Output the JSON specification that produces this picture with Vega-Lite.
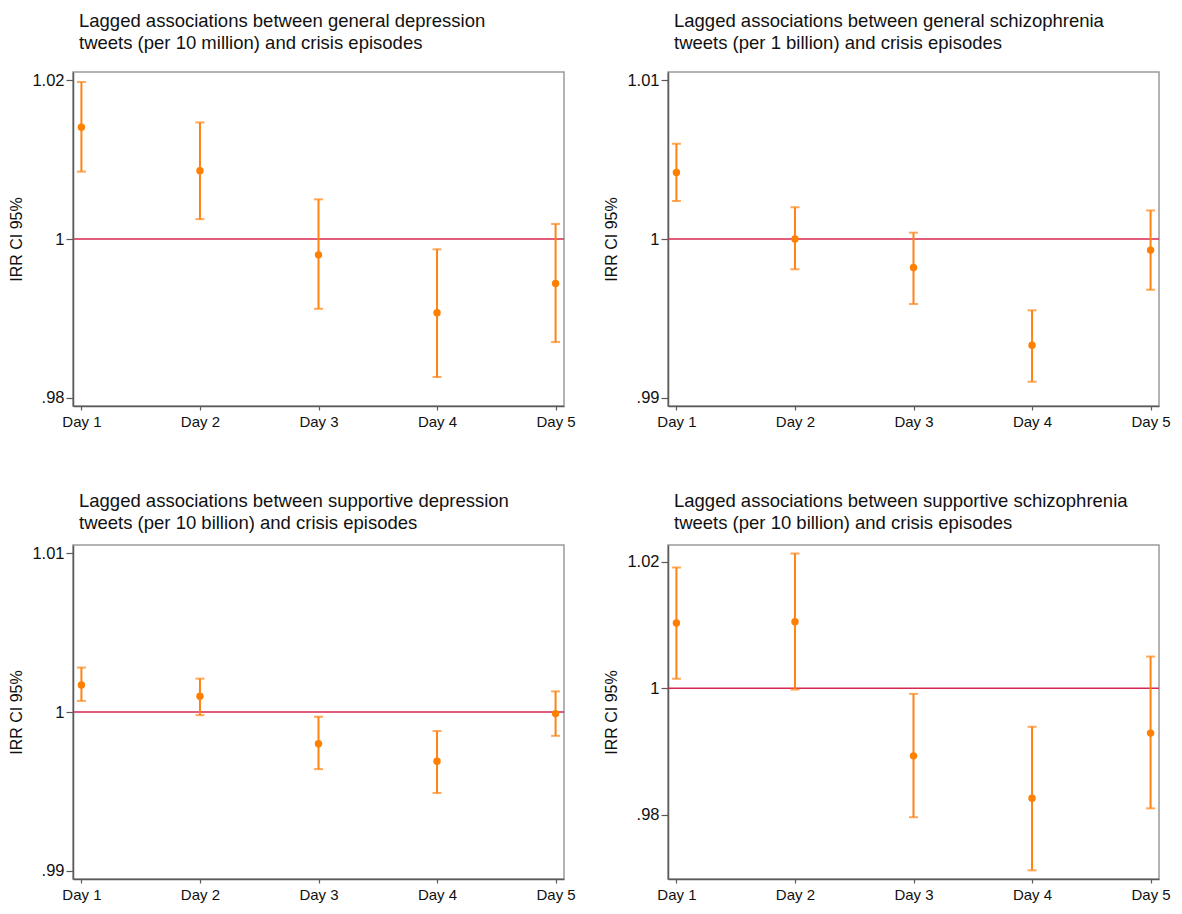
{
  "$schema": "https://vega.github.io/schema/vega-lite/v6.json",
  "padding": {"left": 8, "top": 10, "right": 5, "bottom": 5},
  "background": "white",
  "config": {
    "font": "Liberation Sans",
    "view": {"stroke": "#9a9a9a", "strokeWidth": 1.5},
    "axis": {"grid": false, "domainColor": "#5a5a5a", "domainWidth": 1.5, "tickColor": "#5a5a5a", "tickWidth": 1.2, "labelColor": "#111", "titleColor": "#111", "titleFontWeight": "normal"},
    "axisX": {"labelFontSize": 15, "tickSize": 4, "labelPadding": 4, "labelAngle": 0, "title": null},
    "axisY": {"labelFontSize": 16.5, "tickSize": 7, "labelPadding": 2, "titleFontSize": 16, "titlePadding": 7},
    "title": {"fontSize": 18.5, "fontWeight": "normal", "color": "#111", "anchor": "start", "frame": "group", "lineHeight": 22, "dx": 6}
  },
  "data": {"values": [
    {"panel": "p1", "day": "Day 1", "lo": 1.0085, "irr": 1.0141, "hi": 1.0198},
    {"panel": "p1", "day": "Day 2", "lo": 1.0025, "irr": 1.0086, "hi": 1.0147},
    {"panel": "p1", "day": "Day 3", "lo": 0.9912, "irr": 0.9980, "hi": 1.0050},
    {"panel": "p1", "day": "Day 4", "lo": 0.9826, "irr": 0.9907, "hi": 0.9987},
    {"panel": "p1", "day": "Day 5", "lo": 0.9870, "irr": 0.9944, "hi": 1.0019},
    {"panel": "p2", "day": "Day 1", "lo": 1.0024, "irr": 1.0042, "hi": 1.0060},
    {"panel": "p2", "day": "Day 2", "lo": 0.9981, "irr": 1.0000, "hi": 1.0020},
    {"panel": "p2", "day": "Day 3", "lo": 0.9959, "irr": 0.9982, "hi": 1.0004},
    {"panel": "p2", "day": "Day 4", "lo": 0.9910, "irr": 0.9933, "hi": 0.9955},
    {"panel": "p2", "day": "Day 5", "lo": 0.9968, "irr": 0.9993, "hi": 1.0018},
    {"panel": "p3", "day": "Day 1", "lo": 1.0007, "irr": 1.0017, "hi": 1.0028},
    {"panel": "p3", "day": "Day 2", "lo": 0.9998, "irr": 1.0010, "hi": 1.0021},
    {"panel": "p3", "day": "Day 3", "lo": 0.9964, "irr": 0.9980, "hi": 0.9997},
    {"panel": "p3", "day": "Day 4", "lo": 0.9949, "irr": 0.9969, "hi": 0.9988},
    {"panel": "p3", "day": "Day 5", "lo": 0.9985, "irr": 0.9999, "hi": 1.0013},
    {"panel": "p4", "day": "Day 1", "lo": 1.0015, "irr": 1.0103, "hi": 1.0191},
    {"panel": "p4", "day": "Day 2", "lo": 0.9998, "irr": 1.0105, "hi": 1.0213},
    {"panel": "p4", "day": "Day 3", "lo": 0.9796, "irr": 0.9893, "hi": 0.9991},
    {"panel": "p4", "day": "Day 4", "lo": 0.9712, "irr": 0.9826, "hi": 0.9939},
    {"panel": "p4", "day": "Day 5", "lo": 0.9810, "irr": 0.9929, "hi": 1.0050}
  ]},
  "columns": 2,
  "bounds": "flush",
  "spacing": {"row": 139, "column": 104},
  "concat": [
    {
      "width": 491, "height": 334,
      "title": {"text": ["Lagged associations between general depression", "tweets (per 10 million) and crisis episodes"], "offset": 20},
      "transform": [{"filter": "datum.panel == 'p1'"}],
      "layer": [
        {"transform": [{"filter": "datum.day == 'Day 1'"}], "mark": {"type": "rule", "color": "#d62750", "strokeWidth": 1.6}, "encoding": {"y": {"datum": 1, "type": "quantitative"}}},
        {"mark": {"type": "rule", "color": "#ff8312", "strokeWidth": 2},
         "encoding": {
           "x": {"field": "day", "type": "ordinal", "scale": {"type": "point", "padding": 0.071}, "axis": {"title": null}},
           "y": {"field": "lo", "type": "quantitative", "scale": {"domain": [0.97894, 1.02106], "nice": false, "zero": false}, "axis": {"title": "IRR CI 95%", "values": [0.98, 1, 1.02], "labelExpr": "abs(datum.value - 1) < 1e-9 ? '1' : (datum.value < 1 ? '.' + substring(format(datum.value, '.2f'), 2) : format(datum.value, '.2f'))"}},
           "y2": {"field": "hi"}}},
        {"mark": {"type": "tick", "color": "#ff8312", "size": 9, "thickness": 2}, "encoding": {"x": {"field": "day", "type": "ordinal"}, "y": {"field": "lo", "type": "quantitative"}}},
        {"mark": {"type": "tick", "color": "#ff8312", "size": 9, "thickness": 2}, "encoding": {"x": {"field": "day", "type": "ordinal"}, "y": {"field": "hi", "type": "quantitative"}}},
        {"mark": {"type": "point", "filled": true, "color": "#ff7f00", "opacity": 1, "size": 55}, "encoding": {"x": {"field": "day", "type": "ordinal"}, "y": {"field": "irr", "type": "quantitative"}}}
      ]
    },
    {
      "width": 491, "height": 334,
      "title": {"text": ["Lagged associations between general schizophrenia", "tweets (per 1 billion) and crisis episodes"], "offset": 20},
      "transform": [{"filter": "datum.panel == 'p2'"}],
      "layer": [
        {"transform": [{"filter": "datum.day == 'Day 1'"}], "mark": {"type": "rule", "color": "#d62750", "strokeWidth": 1.6}, "encoding": {"y": {"datum": 1, "type": "quantitative"}}},
        {"mark": {"type": "rule", "color": "#ff8312", "strokeWidth": 2},
         "encoding": {
           "x": {"field": "day", "type": "ordinal", "scale": {"type": "point", "padding": 0.071}, "axis": {"title": null}},
           "y": {"field": "lo", "type": "quantitative", "scale": {"domain": [0.98947, 1.01053], "nice": false, "zero": false}, "axis": {"title": "IRR CI 95%", "values": [0.99, 1, 1.01], "labelExpr": "abs(datum.value - 1) < 1e-9 ? '1' : (datum.value < 1 ? '.' + substring(format(datum.value, '.2f'), 2) : format(datum.value, '.2f'))"}},
           "y2": {"field": "hi"}}},
        {"mark": {"type": "tick", "color": "#ff8312", "size": 9, "thickness": 2}, "encoding": {"x": {"field": "day", "type": "ordinal"}, "y": {"field": "lo", "type": "quantitative"}}},
        {"mark": {"type": "tick", "color": "#ff8312", "size": 9, "thickness": 2}, "encoding": {"x": {"field": "day", "type": "ordinal"}, "y": {"field": "hi", "type": "quantitative"}}},
        {"mark": {"type": "point", "filled": true, "color": "#ff7f00", "opacity": 1, "size": 55}, "encoding": {"x": {"field": "day", "type": "ordinal"}, "y": {"field": "irr", "type": "quantitative"}}}
      ]
    },
    {
      "width": 491, "height": 334,
      "title": {"text": ["Lagged associations between supportive depression", "tweets (per 10 billion) and crisis episodes"], "offset": 13},
      "transform": [{"filter": "datum.panel == 'p3'"}],
      "layer": [
        {"transform": [{"filter": "datum.day == 'Day 1'"}], "mark": {"type": "rule", "color": "#d62750", "strokeWidth": 1.6}, "encoding": {"y": {"datum": 1, "type": "quantitative"}}},
        {"mark": {"type": "rule", "color": "#ff8312", "strokeWidth": 2},
         "encoding": {
           "x": {"field": "day", "type": "ordinal", "scale": {"type": "point", "padding": 0.071}, "axis": {"title": null}},
           "y": {"field": "lo", "type": "quantitative", "scale": {"domain": [0.98948, 1.01052], "nice": false, "zero": false}, "axis": {"title": "IRR CI 95%", "values": [0.99, 1, 1.01], "labelExpr": "abs(datum.value - 1) < 1e-9 ? '1' : (datum.value < 1 ? '.' + substring(format(datum.value, '.2f'), 2) : format(datum.value, '.2f'))"}},
           "y2": {"field": "hi"}}},
        {"mark": {"type": "tick", "color": "#ff8312", "size": 9, "thickness": 2}, "encoding": {"x": {"field": "day", "type": "ordinal"}, "y": {"field": "lo", "type": "quantitative"}}},
        {"mark": {"type": "tick", "color": "#ff8312", "size": 9, "thickness": 2}, "encoding": {"x": {"field": "day", "type": "ordinal"}, "y": {"field": "hi", "type": "quantitative"}}},
        {"mark": {"type": "point", "filled": true, "color": "#ff7f00", "opacity": 1, "size": 55}, "encoding": {"x": {"field": "day", "type": "ordinal"}, "y": {"field": "irr", "type": "quantitative"}}}
      ]
    },
    {
      "width": 491, "height": 334,
      "title": {"text": ["Lagged associations between supportive schizophrenia", "tweets (per 10 billion) and crisis episodes"], "offset": 13},
      "transform": [{"filter": "datum.panel == 'p4'"}],
      "layer": [
        {"transform": [{"filter": "datum.day == 'Day 1'"}], "mark": {"type": "rule", "color": "#d62750", "strokeWidth": 1.6}, "encoding": {"y": {"datum": 1, "type": "quantitative"}}},
        {"mark": {"type": "rule", "color": "#ff8312", "strokeWidth": 2},
         "encoding": {
           "x": {"field": "day", "type": "ordinal", "scale": {"type": "point", "padding": 0.071}, "axis": {"title": null}},
           "y": {"field": "lo", "type": "quantitative", "scale": {"domain": [0.96983, 1.02264], "nice": false, "zero": false}, "axis": {"title": "IRR CI 95%", "values": [0.98, 1, 1.02], "labelExpr": "abs(datum.value - 1) < 1e-9 ? '1' : (datum.value < 1 ? '.' + substring(format(datum.value, '.2f'), 2) : format(datum.value, '.2f'))"}},
           "y2": {"field": "hi"}}},
        {"mark": {"type": "tick", "color": "#ff8312", "size": 9, "thickness": 2}, "encoding": {"x": {"field": "day", "type": "ordinal"}, "y": {"field": "lo", "type": "quantitative"}}},
        {"mark": {"type": "tick", "color": "#ff8312", "size": 9, "thickness": 2}, "encoding": {"x": {"field": "day", "type": "ordinal"}, "y": {"field": "hi", "type": "quantitative"}}},
        {"mark": {"type": "point", "filled": true, "color": "#ff7f00", "opacity": 1, "size": 55}, "encoding": {"x": {"field": "day", "type": "ordinal"}, "y": {"field": "irr", "type": "quantitative"}}}
      ]
    }
  ]
}
